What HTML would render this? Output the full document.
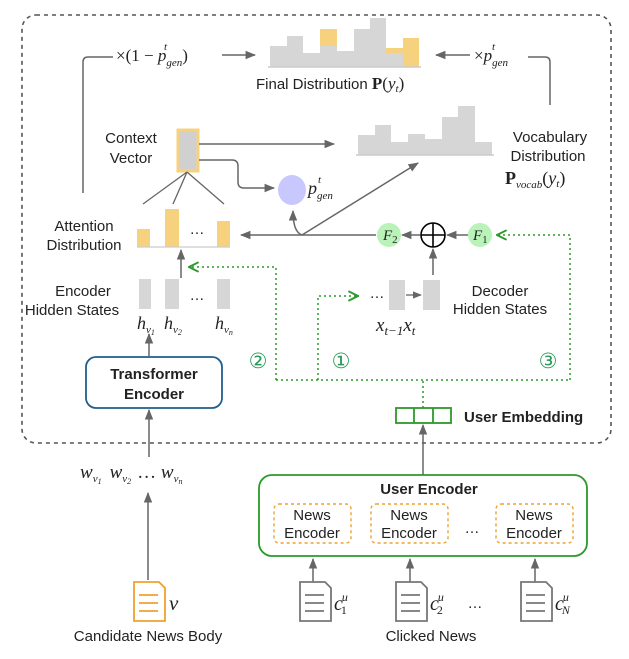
<!DOCTYPE html>
<html><head><meta charset="utf-8"><style>
body{margin:0;background:#fff}
svg{display:block}
.t{font-family:"Liberation Sans","DejaVu Sans",sans-serif;font-size:15px;fill:#222}
.b{font-weight:bold}
.m{font-family:"Liberation Serif",serif;font-style:italic;fill:#222}
.s{font-size:11px}
</style></head><body>
<svg width="629" height="659" viewBox="0 0 629 659" xmlns="http://www.w3.org/2000/svg">
<defs>
<marker id="a" viewBox="0 0 10 10" refX="9" refY="5" markerWidth="7" markerHeight="7" orient="auto-start-reverse"><path d="M0,1 L10,5 L0,9 z" fill="#666"/></marker>
<marker id="g" viewBox="0 0 10 10" refX="9" refY="5" markerWidth="8" markerHeight="8" orient="auto"><path d="M1,1 L9,5 L1,9" fill="none" stroke="#2a9a2a" stroke-width="1.6"/></marker>
</defs>
<rect x="22" y="15" width="589" height="428" rx="14" fill="none" stroke="#555" stroke-width="1.6" stroke-dasharray="4,4"/>

<g fill="#d6d6d6">
<rect x="270" y="46" width="17" height="21"/><rect x="287" y="36" width="16" height="31"/><rect x="303" y="53" width="17" height="14"/>
<rect x="320" y="46" width="17" height="21"/><rect x="337" y="51" width="17" height="16"/><rect x="354" y="29" width="16" height="38"/>
<rect x="370" y="18" width="16" height="49"/><rect x="386" y="53" width="17" height="14"/>
</g>
<g fill="#f7d27e"><rect x="320" y="29" width="17" height="17"/><rect x="386" y="48" width="17" height="5"/><rect x="403" y="38" width="16" height="29"/></g>
<line x1="268" y1="67" x2="421" y2="67" stroke="#ccc" stroke-width="1.5"/>
<text x="256" y="89" class="t" style="font-size:15px">Final Distribution <tspan style="font-family:'Liberation Serif',serif;font-weight:bold;font-size:17px">P</tspan><tspan class="m" style="font-size:17px;font-style:normal">(</tspan><tspan class="m" style="font-size:17px">y</tspan><tspan class="m s" dy="3">t</tspan><tspan class="m" dy="-3" style="font-size:17px;font-style:normal">)</tspan></text>

<path d="M83,193 V62 Q83,57 88,57 H113" fill="none" stroke="#666" stroke-width="1.5"/>
<text x="116" y="61" class="m" style="font-size:17px"><tspan style="font-style:normal">×(1 − </tspan>p<tspan class="s" dy="5">gen</tspan><tspan dy="-5" style="font-style:normal">)</tspan></text>
<text x="164" y="50" class="m s">t</text>
<line x1="222" y1="55" x2="255" y2="55" stroke="#666" stroke-width="1.5" marker-end="url(#a)"/>
<line x1="470" y1="55" x2="436" y2="55" stroke="#666" stroke-width="1.5" marker-end="url(#a)"/>
<text x="474" y="61" class="m" style="font-size:17px"><tspan style="font-style:normal">×</tspan>p<tspan class="s" dy="5">gen</tspan></text>
<text x="492" y="50" class="m s">t</text>
<path d="M528,57 H545 Q550,57 550,62 V105" fill="none" stroke="#666" stroke-width="1.5"/>

<g fill="#d6d6d6">
<rect x="358" y="135" width="17" height="20"/><rect x="375" y="125" width="16" height="30"/><rect x="391" y="142" width="17" height="13"/>
<rect x="408" y="134" width="17" height="21"/><rect x="425" y="139" width="17" height="16"/><rect x="442" y="117" width="16" height="38"/>
<rect x="458" y="106" width="17" height="49"/><rect x="475" y="142" width="17" height="13"/>
</g>
<line x1="356" y1="155" x2="494" y2="155" stroke="#ccc" stroke-width="1.5"/>
<text x="550" y="142" class="t" text-anchor="middle">Vocabulary</text>
<text x="548" y="161" class="t" text-anchor="middle">Distribution</text>
<text x="505" y="184" class="m" style="font-size:18px"><tspan style="font-style:normal;font-weight:bold">P</tspan><tspan class="s" dy="4">vocab</tspan><tspan dy="-4" style="font-style:normal">(</tspan>y<tspan class="s" dy="3">t</tspan><tspan dy="-3" style="font-style:normal">)</tspan></text>

<text x="131" y="143" class="t" text-anchor="middle">Context</text>
<text x="131" y="163" class="t" text-anchor="middle">Vector</text>
<rect x="178" y="130" width="20" height="41" fill="#d0d0d0" stroke="#f7d27e" stroke-width="3"/>
<line x1="199" y1="144" x2="334" y2="144" stroke="#666" stroke-width="1.5" marker-end="url(#a)"/>
<path d="M199,160 H232 Q238,160 238,166 V182 Q238,188 244,188 H274" fill="none" stroke="#666" stroke-width="1.5" marker-end="url(#a)"/>
<ellipse cx="292" cy="190" rx="14" ry="15" fill="#c8c8ff"/>
<text x="308" y="194" class="m" style="font-size:18px">p<tspan class="s" dy="5">gen</tspan></text>
<text x="318" y="183" class="m s">t</text>
<g stroke="#666" stroke-width="1.3"><line x1="187" y1="172" x2="143" y2="204"/><line x1="187" y1="172" x2="173" y2="204"/><line x1="187" y1="172" x2="224" y2="204"/></g>

<text x="84" y="231" class="t" text-anchor="middle">Attention</text>
<text x="84" y="250" class="t" text-anchor="middle">Distribution</text>
<g fill="#f7d27e"><rect x="137" y="229" width="13" height="18"/><rect x="165" y="209" width="14" height="38"/><rect x="217" y="221" width="13" height="26"/></g>
<line x1="137" y1="247" x2="230" y2="247" stroke="#ccc" stroke-width="1.2"/>
<text x="197" y="234" class="t" text-anchor="middle">…</text>

<line x1="376" y1="235" x2="241" y2="235" stroke="#666" stroke-width="1.5" marker-end="url(#a)"/>
<path d="M302,235 Q293,232 293,211" fill="none" stroke="#666" stroke-width="1.5" marker-end="url(#a)"/>
<line x1="302" y1="235" x2="418" y2="163" stroke="#666" stroke-width="1.5" marker-end="url(#a)"/>

<circle cx="389" cy="235" r="12" fill="#b9f3b9"/>
<text x="383" y="240" class="m" style="font-size:15px">F<tspan class="s" dy="3" style="font-style:normal">2</tspan></text>
<circle cx="433" cy="235" r="12" fill="none" stroke="#000" stroke-width="1.6"/>
<line x1="421" y1="235" x2="445" y2="235" stroke="#000" stroke-width="1.6"/><line x1="433" y1="223" x2="433" y2="247" stroke="#000" stroke-width="1.6"/>
<circle cx="480" cy="235" r="12" fill="#b9f3b9"/>
<text x="473" y="240" class="m" style="font-size:15px">F<tspan class="s" dy="3" style="font-style:normal">1</tspan></text>
<line x1="468" y1="235" x2="447" y2="235" stroke="#666" stroke-width="1.5" marker-end="url(#a)"/>
<line x1="420" y1="235" x2="402" y2="235" stroke="#666" stroke-width="1.5" marker-end="url(#a)"/>
<line x1="433" y1="275" x2="433" y2="249" stroke="#666" stroke-width="1.5" marker-end="url(#a)"/>

<g fill="none" stroke="#2a9a2a" stroke-width="1.5" stroke-dasharray="2,3">
<path d="M570,380 V235 H497" marker-end="url(#g)"/>
<path d="M276,380 V267 H189" marker-end="url(#g)"/>
<path d="M318,380 V296 H358" marker-end="url(#g)"/>
<path d="M276,380 H570"/>
<path d="M423,408 V380"/>
</g>
<text x="258" y="368" text-anchor="middle" style="font-family:'DejaVu Sans',sans-serif;font-size:21px;fill:#2a9a5a">②</text>
<text x="341" y="368" text-anchor="middle" style="font-family:'DejaVu Sans',sans-serif;font-size:21px;fill:#2a9a5a">①</text>
<text x="548" y="368" text-anchor="middle" style="font-family:'DejaVu Sans',sans-serif;font-size:21px;fill:#2a9a5a">③</text>

<text x="83" y="296" class="t" text-anchor="middle">Encoder</text>
<text x="72" y="315" class="t" text-anchor="middle">Hidden States</text>
<g fill="#d6d6d6"><rect x="139" y="279" width="12" height="30"/><rect x="165" y="279" width="14" height="30"/><rect x="217" y="279" width="13" height="30"/>
<rect x="389" y="280" width="16" height="30"/><rect x="423" y="280" width="17" height="30"/></g>
<text x="197" y="300" class="t" text-anchor="middle">…</text>
<line x1="181" y1="278" x2="181" y2="250" stroke="#666" stroke-width="1.5" marker-end="url(#a)"/>
<text x="137" y="329" class="m" style="font-size:18px">h<tspan class="s" dy="4">v</tspan><tspan style="font-size:8px" dy="2">1</tspan></text>
<text x="164" y="329" class="m" style="font-size:18px">h<tspan class="s" dy="4">v</tspan><tspan style="font-size:8px" dy="2">2</tspan></text>
<text x="215" y="329" class="m" style="font-size:18px">h<tspan class="s" dy="4">v</tspan><tspan style="font-size:8px" dy="2">n</tspan></text>

<text x="377" y="298" class="t" text-anchor="middle">…</text>
<line x1="406" y1="295" x2="421" y2="295" stroke="#666" stroke-width="1.3" marker-end="url(#a)"/>
<text x="376" y="331" class="m" style="font-size:19px">x<tspan dy="4" style="font-size:13px">t−1</tspan><tspan dy="-4">x</tspan><tspan dy="4" style="font-size:13px">t</tspan></text>
<text x="500" y="296" class="t" text-anchor="middle">Decoder</text>
<text x="500" y="314" class="t" text-anchor="middle">Hidden States</text>

<rect x="86" y="357" width="136" height="51" rx="10" fill="none" stroke="#1f5f8f" stroke-width="1.8"/>
<text x="154" y="379" class="t b" text-anchor="middle">Transformer</text>
<text x="154" y="399" class="t b" text-anchor="middle">Encoder</text>
<line x1="149" y1="357" x2="149" y2="334" stroke="#666" stroke-width="1.5" marker-end="url(#a)"/>
<line x1="149" y1="457" x2="149" y2="410" stroke="#666" stroke-width="1.5" marker-end="url(#a)"/>

<g fill="none" stroke="#2a9a2a" stroke-width="1.8"><rect x="396" y="408" width="55" height="15"/><line x1="414" y1="408" x2="414" y2="423"/><line x1="433" y1="408" x2="433" y2="423"/></g>
<text x="464" y="422" class="t b">User Embedding</text>
<line x1="423" y1="475" x2="423" y2="425" stroke="#666" stroke-width="1.5" marker-end="url(#a)"/>

<text x="80" y="478" class="m" style="font-size:19px">w<tspan class="s" dy="4">v</tspan><tspan style="font-size:8px" dy="2">1</tspan><tspan dx="8" dy="-6">w</tspan><tspan class="s" dy="4">v</tspan><tspan style="font-size:8px" dy="2">2</tspan><tspan dx="6" dy="-6" style="font-style:normal">… </tspan>w<tspan class="s" dy="4">v</tspan><tspan style="font-size:8px" dy="2">n</tspan></text>
<line x1="148" y1="580" x2="148" y2="493" stroke="#666" stroke-width="1.5" marker-end="url(#a)"/>

<rect x="259" y="475" width="328" height="81" rx="13" fill="none" stroke="#2a9a2a" stroke-width="1.8"/>
<text x="429" y="494" class="t b" text-anchor="middle">User Encoder</text>
<g fill="none" stroke="#f0a030" stroke-width="1.4" stroke-dasharray="3,3">
<rect x="274" y="504" width="77" height="39" rx="5"/><rect x="371" y="504" width="77" height="39" rx="5"/><rect x="496" y="504" width="77" height="39" rx="5"/></g>
<g class="t" text-anchor="middle">
<text x="312" y="520">News</text><text x="312" y="538">Encoder</text>
<text x="409" y="520">News</text><text x="409" y="538">Encoder</text>
<text x="534" y="520">News</text><text x="534" y="538">Encoder</text>
<text x="472" y="533">…</text>
</g>
<g stroke="#666" stroke-width="1.5"><line x1="313" y1="582" x2="313" y2="559" marker-end="url(#a)"/><line x1="410" y1="582" x2="410" y2="559" marker-end="url(#a)"/><line x1="535" y1="582" x2="535" y2="559" marker-end="url(#a)"/></g>

<g fill="#fff" stroke-width="1.8">
<g stroke="#f0a030"><path d="M134,582 H159 L165,588 V621 H134 Z"/><line x1="139" y1="595" x2="158" y2="595"/><line x1="139" y1="603" x2="158" y2="603"/><line x1="139" y1="611" x2="158" y2="611"/></g>
<g stroke="#777"><path d="M300,582 H325 L331,588 V621 H300 Z"/><line x1="305" y1="595" x2="324" y2="595"/><line x1="305" y1="603" x2="324" y2="603"/><line x1="305" y1="611" x2="324" y2="611"/></g>
<g stroke="#777"><path d="M396,582 H421 L427,588 V621 H396 Z"/><line x1="401" y1="595" x2="420" y2="595"/><line x1="401" y1="603" x2="420" y2="603"/><line x1="401" y1="611" x2="420" y2="611"/></g>
<g stroke="#777"><path d="M521,582 H546 L552,588 V621 H521 Z"/><line x1="526" y1="595" x2="545" y2="595"/><line x1="526" y1="603" x2="545" y2="603"/><line x1="526" y1="611" x2="545" y2="611"/></g>
</g>
<text x="169" y="610" class="m" style="font-size:21px">v</text>
<text x="334" y="610" class="m" style="font-size:20px">c<tspan dx="-1" dy="-9" style="font-size:12px">u</tspan><tspan dx="-7" dy="13" style="font-size:12px;font-style:normal">1</tspan></text>
<text x="430" y="610" class="m" style="font-size:20px">c<tspan dx="-1" dy="-9" style="font-size:12px">u</tspan><tspan dx="-7" dy="13" style="font-size:12px;font-style:normal">2</tspan></text>
<text x="555" y="610" class="m" style="font-size:20px">c<tspan dx="-1" dy="-9" style="font-size:12px">u</tspan><tspan dx="-7" dy="13" style="font-size:12px">N</tspan></text>
<text x="475" y="608" class="t" text-anchor="middle">…</text>
<text x="148" y="641" class="t" text-anchor="middle">Candidate News Body</text>
<text x="431" y="641" class="t" text-anchor="middle">Clicked News</text>
</svg>
</body></html>
